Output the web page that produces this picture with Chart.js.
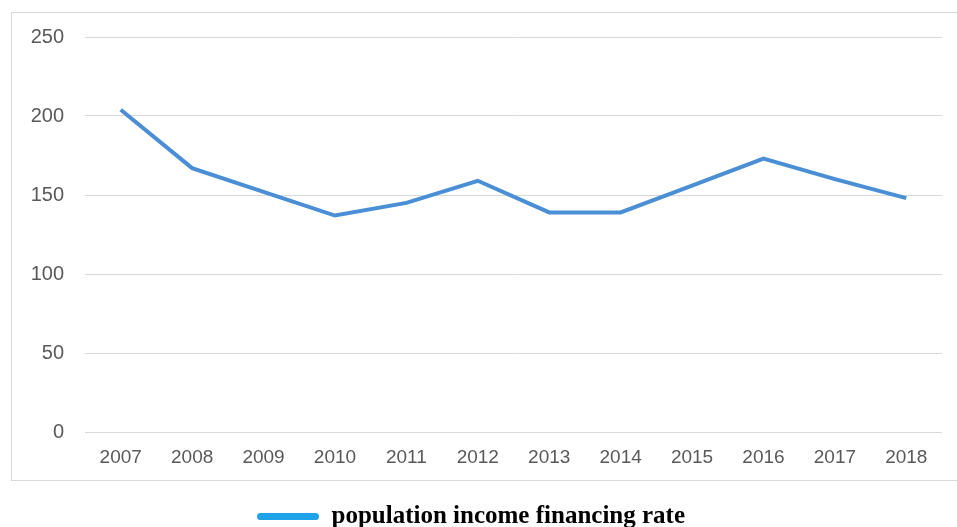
<!DOCTYPE html>
<html>
<head>
<meta charset="utf-8">
<script src="https://cdn.jsdelivr.net/npm/chart.js@4.4.0/dist/chart.umd.min.js"></script>
<style>
  html, body { margin: 0; padding: 0; background: #fff; }
  #wrap { width: 957px; height: 527px; position: relative; }
</style>
</head>
<body>
<div id="wrap"><canvas id="rateChart"></canvas></div>
<script>
// Data
const years = ['2007', '2008', '2009', '2010', '2011', '2012', '2013', '2014', '2015', '2016', '2017', '2018'];
const rateValues = [204, 167, 152, 137, 145, 159, 139, 139, 156, 173, 160, 148];
const yTicks = [0, 50, 100, 150, 200, 250];
const seriesName = 'population income financing rate';

// Light frame around the plot, legend sits below it
const framePlugin = {
    id: 'frame',
    beforeDraw(chart) {
        const ctx = chart.ctx;
        ctx.save();
        ctx.strokeStyle = '#d9d9d9';
        ctx.lineWidth = 1;
        ctx.strokeRect(11.5, 12.5, 960, 468);
        ctx.restore();
    }
};

const ctx = document.getElementById('rateChart').getContext('2d');

new Chart(ctx, {
    type: 'line',
    data: {
        labels: years,
        datasets: [{
            label: seriesName,
            data: rateValues,
            borderColor: '#4a8fd6',
            backgroundColor: '#4a8fd6',
            borderWidth: 4,
            pointRadius: 0,
            tension: 0,
            fill: false
        }]
    },
    options: {
        responsive: true,
        maintainAspectRatio: false,
        animation: false,
        layout: {
            // negative bottom pushes the legend down close to the edge
            padding: { top: 37, right: 15, bottom: -12, left: 0 }
        },
        plugins: {
            tooltip: { enabled: false },
            legend: {
                position: 'bottom',
                labels: {
                    padding: 2,
                    boxWidth: 62,
                    boxHeight: 7,
                    color: '#000',
                    font: { family: "'Liberation Serif', serif", size: 25, weight: 'bold' },
                    generateLabels: () => [{
                        text: seriesName,
                        fillStyle: '#1ea2e8',
                        strokeStyle: '#1ea2e8',
                        lineWidth: 0,
                        borderRadius: 3.5,
                        datasetIndex: 0
                    }]
                }
            }
        },
        scales: {
            x: {
                offset: true,
                grid: { display: false },
                border: { display: false },
                ticks: {
                    color: '#595959',
                    padding: 6,
                    font: { family: "'Liberation Sans', sans-serif", size: 19 }
                },
                afterFit(scale) { scale.height = 70; }
            },
            y: {
                min: 0,
                max: 250,
                afterBuildTicks(scale) { scale.ticks = yTicks.map(v => ({ value: v })); },
                grid: { color: '#d9d9d9', lineWidth: 1, drawTicks: false },
                border: { display: false },
                ticks: {
                    color: '#595959',
                    padding: 21,
                    font: { family: "'Liberation Sans', sans-serif", size: 20 }
                },
                afterFit(scale) { scale.width = 85; }
            }
        }
    },
    plugins: [framePlugin]
});
</script>
</body>
</html>
